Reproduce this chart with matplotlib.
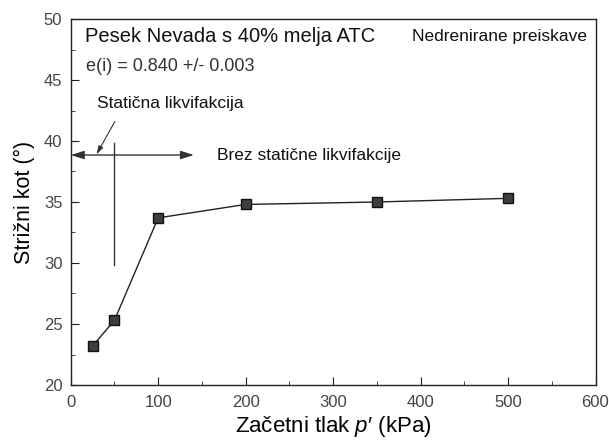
import matplotlib
matplotlib.use("Agg")
import matplotlib.pyplot as plt
from matplotlib.ticker import MultipleLocator

plt.rcParams['font.family'] = ['Liberation Sans', 'DejaVu Sans']
plt.rcParams['mathtext.fontset'] = 'custom'
plt.rcParams['mathtext.it'] = 'Liberation Sans:italic'
plt.rcParams['mathtext.rm'] = 'Liberation Sans'

pressure = [25, 50, 100, 200, 350, 500]
angle = [23.2, 25.3, 33.7, 34.8, 35.0, 35.3]
xticks = [0, 100, 200, 300, 400, 500, 600]
yticks = [20, 25, 30, 35, 40, 45, 50]

fig = plt.figure(figsize=(6.09, 4.44), dpi=100)
ax = fig.add_axes([70.7/609, 1 - 385/444, (595.5-70.7)/609, (385-19)/444])

ax.plot(pressure, angle, color='#222222', lw=1.0, marker='s', ms=7,
        markerfacecolor='#3c3f3c', markeredgecolor='#111111', markeredgewidth=1.0)

ax.set_xlim(0, 600)
ax.set_ylim(20, 50)
ax.set_xticks(xticks)
ax.set_yticks(yticks)
ax.xaxis.set_minor_locator(MultipleLocator(50))
ax.yaxis.set_minor_locator(MultipleLocator(2.5))
ax.tick_params(which='both', direction='in', top=False, right=False,
               labelsize=12, labelcolor='#444444', color='#222222')
ax.tick_params(axis='x', which='major', length=6, pad=7)
ax.tick_params(axis='y', which='major', length=6, pad=6)
ax.tick_params(which='minor', length=3)
for s in ax.spines.values():
    s.set_color('#222222')
    s.set_linewidth(1.0)

ax.set_xlabel("Začetni tlak $\\mathit{p}$′ (kPa)", fontsize=16, labelpad=3)
ax.set_ylabel("Strižni kot (°)", fontsize=15.5, labelpad=6)

# annotations
ax.text(16, 48.55, "Pesek Nevada s 40% melja ATC", fontsize=14.5, va='center', ha='left', color='#111111')
ax.text(18, 46.1, "e(i) = 0.840 +/- 0.003", fontsize=13, va='center', ha='left', color='#333333')
ax.text(390, 48.6, "Nedrenirane preiskave", fontsize=12.5, va='center', ha='left', color='#111111')
ax.text(30, 43.1, "Statična likvifakcija", fontsize=12.5, va='center', ha='left', color='#111111')
ax.text(167, 38.85, "Brez statične likvifakcije", fontsize=12.5, va='center', ha='left', color='#111111')

# double-headed arrow
ax.annotate('', xy=(0, 38.85), xytext=(50, 38.85),
            arrowprops=dict(arrowstyle='-|>,head_length=0.8,head_width=0.25', color='#333333', lw=1.0,
                            shrinkA=0, shrinkB=0))
ax.annotate('', xy=(141, 38.85), xytext=(50, 38.85),
            arrowprops=dict(arrowstyle='-|>,head_length=0.8,head_width=0.25', color='#333333', lw=1.0,
                            shrinkA=0, shrinkB=0))
ax.plot([50, 50], [29.8, 39.8], color='#333333', lw=1.0)
ax.annotate('', xy=(29.5, 38.9), xytext=(50.5, 41.6),
            arrowprops=dict(arrowstyle='-|>,head_length=0.5,head_width=0.15', color='#333333', lw=0.8,
                            shrinkA=0, shrinkB=0))

fig.savefig('out.png', dpi=100)
